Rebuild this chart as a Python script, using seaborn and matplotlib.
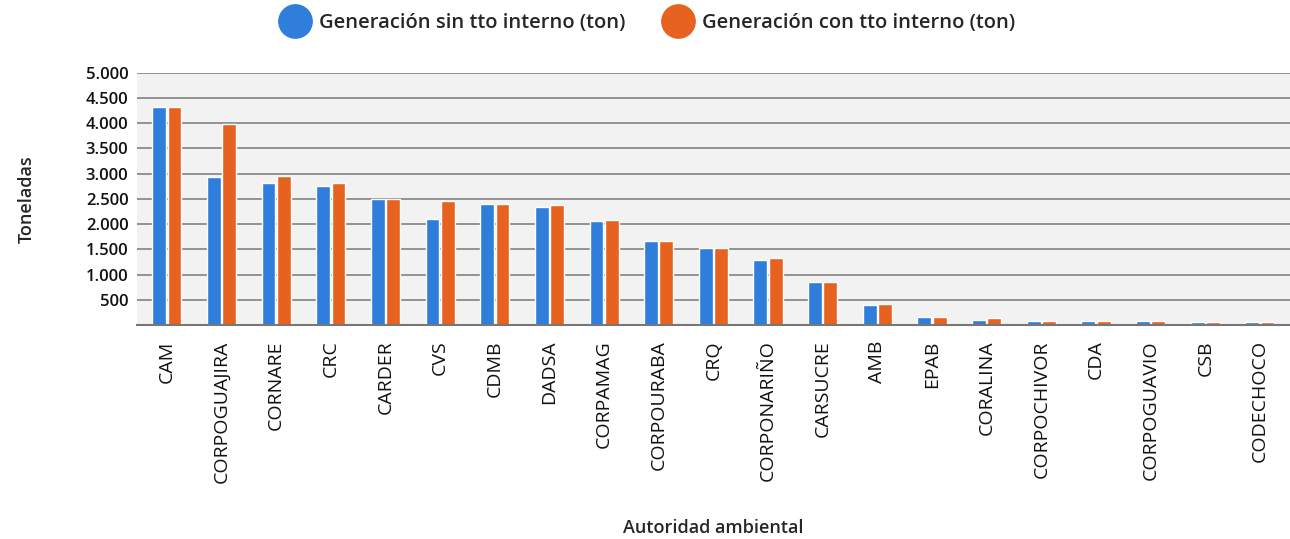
import numpy as np
import pandas as pd
import matplotlib.pyplot as plt
from matplotlib.lines import Line2D
from matplotlib.ticker import FuncFormatter
import seaborn as sns

#%% Datos
autoridades = ["CAM", "CORPOGUAJIRA", "CORNARE", "CRC", "CARDER", "CVS", "CDMB",
               "DADSA", "CORPAMAG", "CORPOURABA", "CRQ", "CORPONARIÑO", "CARSUCRE",
               "AMB", "EPAB", "CORALINA", "CORPOCHIVOR", "CDA", "CORPOGUAVIO",
               "CSB", "CODECHOCO"]
sin_tto = [4330, 2933, 2814, 2755, 2490, 2109, 2405, 2346, 2055, 1674, 1530,
           1298, 858, 389, 166, 107, 79, 79, 79, 53, 53]
con_tto = [4330, 3986, 2958, 2814, 2490, 2464, 2405, 2379, 2083, 1674, 1530,
           1332, 858, 423, 166, 132, 79, 79, 79, 53, 53]
serie_sin = "Generación sin tto interno (ton)"
serie_con = "Generación con tto interno (ton)"
colores = {serie_sin: "#2F7EDB", serie_con: "#E8621F"}

df = pd.DataFrame({"autoridad": autoridades * 2,
                   "serie": [serie_sin] * len(autoridades) + [serie_con] * len(autoridades),
                   "ton": sin_tto + con_tto})

#%% Grafico
sns.set_style("white")
plt.rcParams["font.family"] = ["Open Sans", "DejaVu Sans"]

fig = plt.figure(figsize=(12.9, 5.39), dpi=100)
ax = fig.add_axes([0.106, 0.397, 0.894, 0.468])
ax.set_facecolor("#F2F2F2")

sns.barplot(data=df, x="autoridad", y="ton", hue="serie", palette=colores,
            width=0.56, gap=0.1, ax=ax, legend=False, saturation=1)

ax.set_ylim(0, 5000)
ax.set_xlim(-0.55, len(autoridades) - 0.45)
ax.set_yticks(np.arange(500, 5001, 500))
ax.yaxis.set_major_formatter(FuncFormatter(lambda v, p: f"{int(v):,}".replace(",", ".")))
ax.grid(axis="y", color="#8A8A8A", linewidth=1.3)
ax.set_axisbelow(True)
for s in ["top", "right", "left"]:
    ax.spines[s].set_visible(False)
ax.spines["bottom"].set_color("#777777")
ax.spines["bottom"].set_linewidth(1.5)
ax.tick_params(axis="x", rotation=90, labelsize=14, length=0, pad=11, colors="#111111")
ax.tick_params(axis="y", labelsize=12, length=0, pad=6, colors="#111111")
for t in ax.get_yticklabels():
    t.set_fontweight("semibold")

ax.set_xlabel("Autoridad ambiental", fontsize=13, fontweight="semibold", labelpad=26)
ax.set_ylabel("Toneladas", fontsize=13, fontweight="semibold", labelpad=36)

handles = [Line2D([], [], marker="o", linestyle="", markersize=24, color=colores[k]) for k in colores]
fig.legend(handles, list(colores), loc="upper center", bbox_to_anchor=(0.5, 1.01), ncol=2,
           frameon=False, prop={"size": 14.5, "weight": "semibold"}, handletextpad=0.2,
           columnspacing=1.6)

fig.savefig("out.png", dpi=100)
